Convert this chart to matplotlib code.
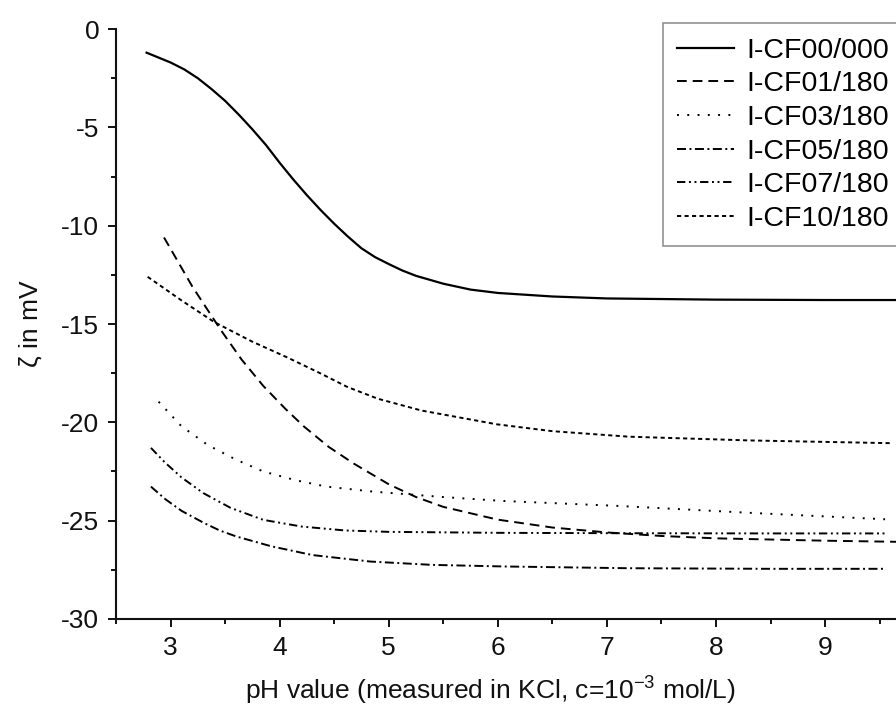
import matplotlib
matplotlib.use("Agg")
import matplotlib.pyplot as plt
from matplotlib.ticker import MultipleLocator

# zeta potential vs pH
ph_00 = [2.78, 3.0, 3.125, 3.25, 3.375, 3.5, 3.625, 3.75, 3.875, 4.0, 4.125, 4.25, 4.375, 4.5,
         4.625, 4.75, 4.875, 5.0, 5.125, 5.25, 5.5, 5.75, 6.0, 6.5, 7.0, 8.0, 9.0, 9.7]
zeta_00 = [-1.2, -1.7, -2.05, -2.5, -3.05, -3.65, -4.35, -5.1, -5.9, -6.8, -7.65, -8.45, -9.2, -9.9,
           -10.55, -11.15, -11.6, -11.95, -12.28, -12.55, -12.95, -13.25, -13.42, -13.6, -13.7, -13.76, -13.78, -13.78]

ph_01 = [2.94, 3.2, 3.46, 3.65, 3.85, 4.05, 4.22, 4.45, 4.68, 5.0, 5.25, 5.5, 6.0, 6.5, 7.0, 7.5, 8.0, 9.0, 9.7]
zeta_01 = [-10.6, -13.1, -15.3, -16.8, -18.15, -19.3, -20.2, -21.25, -22.1, -23.15, -23.8, -24.3, -24.95, -25.35,
           -25.6, -25.78, -25.9, -26.02, -26.08]

ph_03 = [2.89, 3.1, 3.34, 3.6, 3.85, 4.15, 4.43, 4.85, 5.5, 6.05, 7.1, 8.3, 9.55]
zeta_03 = [-18.95, -20.2, -21.15, -21.9, -22.5, -22.95, -23.27, -23.52, -23.8, -24.0, -24.25, -24.6, -24.93]

ph_05 = [2.82, 2.95, 3.1, 3.3, 3.45, 3.6, 3.92, 4.3, 4.83, 5.4, 6.05, 7.2, 8.5, 9.55]
zeta_05 = [-23.27, -23.9, -24.5, -25.1, -25.5, -25.8, -26.3, -26.75, -27.08, -27.25, -27.33, -27.42, -27.45, -27.45]

ph_07 = [2.82, 2.95, 3.1, 3.3, 3.55, 3.85, 4.2, 4.6, 5.0, 6.0, 7.2, 8.5, 9.57]
zeta_07 = [-21.3, -22.05, -22.8, -23.6, -24.35, -24.96, -25.3, -25.5, -25.57, -25.62, -25.64, -25.65, -25.65]

ph_10 = [2.79, 3.1, 3.4, 3.75, 4.07, 4.37, 4.62, 4.9, 5.3, 5.99, 6.5, 7.2, 8.3, 9.6]
zeta_10 = [-12.6, -13.8, -14.9, -15.9, -16.7, -17.5, -18.2, -18.8, -19.4, -20.1, -20.45, -20.73, -20.92, -21.06]

labels = ["I-CF00/000", "I-CF01/180", "I-CF03/180", "I-CF05/180", "I-CF07/180", "I-CF10/180"]

plt.rcParams["font.family"] = ["Liberation Sans", "DejaVu Sans"]
plt.rcParams["mathtext.default"] = "regular"
plt.rcParams["axes.unicode_minus"] = False
plt.rcParams["lines.scale_dashes"] = False

fig = plt.figure(figsize=(8.96, 7.09), dpi=100)
ax = fig.add_axes([0.1295, 0.127, 0.8705, 0.832])

lw = 1.4
ax.plot(ph_00, zeta_00, color="k", lw=1.6, ls="-", label=labels[0])
ax.plot(ph_01, zeta_01, color="k", lw=lw, ls=(0, (7, 4.3)), label=labels[1])
ax.plot(ph_03, zeta_03, color="k", lw=lw, ls=(0, (1.4, 6)), label=labels[2])
ax.plot(ph_05, zeta_05, color="k", lw=lw, ls=(0, (6.5, 2.5, 1.4, 2.5)), label=labels[3])
ax.plot(ph_07, zeta_07, color="k", lw=lw, ls=(0, (6, 2.6, 1.4, 2.6, 1.4, 2.6)), label=labels[4])
ax.plot(ph_10, zeta_10, color="k", lw=lw, ls=(0, (3, 2.4)), label=labels[5])

ax.set_xlim(2.5, 9.65)
ax.set_ylim(-30, 0)
ax.xaxis.set_major_locator(MultipleLocator(1))
ax.xaxis.set_minor_locator(MultipleLocator(0.5))
ax.yaxis.set_major_locator(MultipleLocator(5))
ax.yaxis.set_minor_locator(MultipleLocator(2.5))

for s in ["top", "right"]:
    ax.spines[s].set_visible(False)
for s in ["left", "bottom"]:
    ax.spines[s].set_linewidth(1.5)
    ax.spines[s].set_color("#111111")

ax.tick_params(which="major", direction="out", length=6, width=1.4, labelsize=19, pad=6, colors="#111111")
ax.tick_params(which="minor", direction="out", length=3.8, width=1.4, colors="#111111")

ax.set_xlabel("pH value (measured in KCl, c=10$^{-3}$ mol/L)", fontsize=19, color="#111111")
ax.set_ylabel("ζ in mV", fontsize=19, color="#111111")
ax.xaxis.set_label_coords(0.48, -0.095)
ax.yaxis.set_label_coords(-0.094, 0.5)

leg = fig.legend(loc="upper right", bbox_to_anchor=(1.008, 0.967), fontsize=20.5,
                 frameon=True, fancybox=False, handlelength=2.0, handletextpad=0.42,
                 labelspacing=0.27, borderpad=0.5, borderaxespad=0)
leg.get_frame().set_edgecolor("#777777")
leg.get_frame().set_linewidth(1.2)

fig.savefig("out.png", dpi=100)
